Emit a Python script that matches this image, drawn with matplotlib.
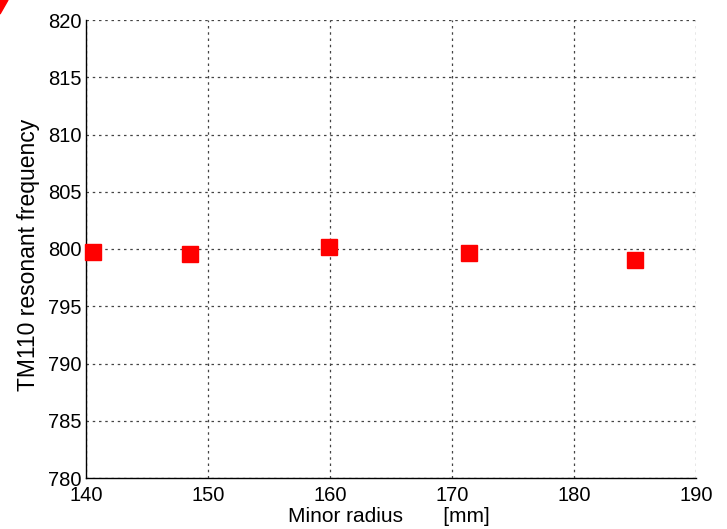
import matplotlib
matplotlib.use("Agg")
import matplotlib.pyplot as plt
from matplotlib.patches import Polygon

plt.rcParams['font.family'] = ['Liberation Sans', 'DejaVu Sans']

minor_radius = [140.6, 148.5, 159.9, 171.4, 185.0]
frequency = [799.74, 799.56, 800.17, 799.65, 799.04]
x_ticks = [140, 150, 160, 170, 180, 190]
y_ticks = [780, 785, 790, 795, 800, 805, 810, 815, 820]

fig = plt.figure(figsize=(7.27, 5.29), dpi=100)
ax = fig.add_axes([86/727, 51/529, 610/727, 458/529])
ax.plot(minor_radius, frequency, linestyle='none', marker='s', markersize=12,
        color='#ff0000', markeredgecolor='#ff0000', zorder=3, clip_on=False)
ax.set_xlim(140, 190)
ax.set_ylim(780, 820)
ax.set_xticks(x_ticks)
ax.set_yticks(y_ticks)
ax.tick_params(labelsize=14.5, length=0)
ax.tick_params(axis='x', pad=6)
ax.tick_params(axis='y', pad=3)
ax.grid(True, color='#444444', linestyle=(0, (2, 3)), linewidth=0.9)
for s in ['top', 'right']:
    ax.spines[s].set_visible(False)
for s in ['left', 'bottom']:
    ax.spines[s].set_linewidth(1.0)
ax.set_xlabel('Minor radius       [mm]', fontsize=15, ha='center', va='center')
ax.xaxis.set_label_coords(0.497, -0.085)
ax.set_ylabel('TM110 resonant frequency', fontsize=16.5, ha='center', va='center')
ax.yaxis.set_label_coords(-0.095, 0.487)

fig.patches.append(Polygon([[0, 1], [8/727, 1], [0, 1 - 14/529]], closed=True,
                           transform=fig.transFigure, color='#ff0000'))
fig.savefig('out.png', dpi=100)
